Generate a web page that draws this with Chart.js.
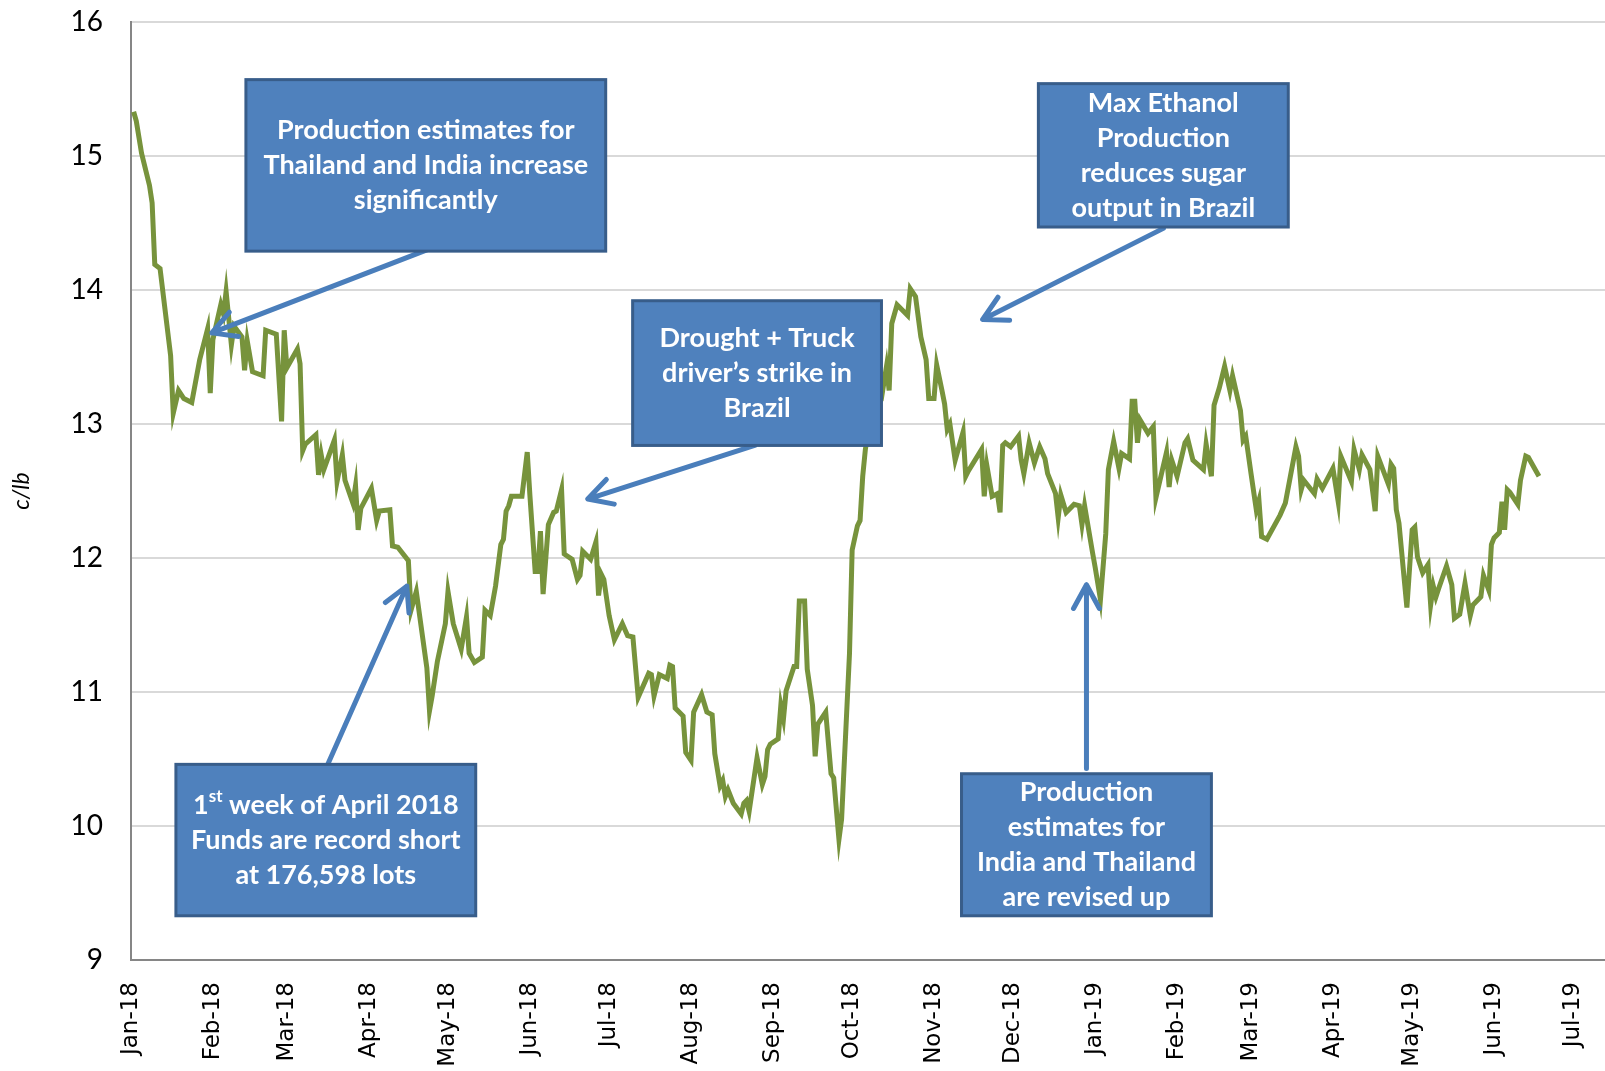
<!DOCTYPE html>
<html>
<head>
<meta charset="utf-8">
<script src="https://cdn.jsdelivr.net/npm/chart.js@4.4.0/dist/chart.umd.min.js"></script>
<style>
  html, body { margin: 0; padding: 0; background: #fff; }
</style>
</head>
<body>
<canvas id="sugarChart" width="1605" height="1071"></canvas>
<script>
// days counted from 1 Jan 2018
const tradeDay = [
  1, 2, 4, 7, 8, 9, 11, 15, 16, 18, 20, 23, 26, 29, 30, 31, 34, 35, 36, 38,
  39, 42, 43, 44, 46, 50, 51, 55, 57, 58, 59, 63, 64, 65, 66, 70, 71, 72, 73, 77,
  78, 80, 81, 84, 85, 86, 87, 91, 93, 94, 98, 99, 101, 105, 106, 108, 112, 113, 114, 116,
  119, 120, 122, 125, 127, 128, 130, 133, 134, 136, 138, 140, 141, 142, 143, 144, 148, 150, 151, 153,
  154, 155, 156, 158, 160, 161, 163, 164, 167, 169, 170, 171, 174, 176, 177, 178, 179, 181, 183, 186,
  188, 190, 192, 196, 197, 198, 200, 203, 204, 205, 206, 209, 210, 212, 213, 216, 218, 220, 221, 223,
  224, 225, 226, 228, 231, 232, 233, 234, 237, 239, 240, 241, 242, 245, 246, 247, 248, 250, 251, 252,
  253, 255, 256, 258, 259, 260, 263, 265, 266, 268, 269, 272, 273, 275, 276, 277, 278, 279, 281, 284,
  286, 287, 288, 290, 293, 294, 295, 297, 299, 301, 302, 304, 305, 307, 308, 309, 310, 312, 315, 316,
  317, 322, 323, 324, 326, 328, 329, 330, 331, 333, 336, 337, 338, 340, 342, 344, 346, 347, 350, 351,
  352, 354, 357, 359, 360, 361, 364, 365, 367, 369, 370, 372, 374, 375, 378, 379, 380, 381, 382, 385,
  387, 388, 392, 393, 394, 396, 399, 400, 402, 406, 407, 409, 410, 412, 414, 416, 417, 420, 421, 422,
  424, 426, 427, 428, 430, 435, 437, 441, 442, 443, 444, 448, 449, 451, 455, 457, 458, 462, 463, 465,
  466, 469, 471, 472, 476, 477, 478, 479, 480, 483, 485, 486, 487, 489, 491, 492, 493, 494, 495, 498,
  500, 501, 503, 505, 507, 508, 511, 512, 514, 515, 516, 518, 519, 520, 521, 522, 525, 526, 528, 529,
  533
];
const priceCents = [
  15.33, 15.26, 15.02, 14.78, 14.65, 14.19, 14.16, 13.51, 13.08, 13.25, 13.19, 13.16, 13.48, 13.71, 13.23, 13.63, 13.89, 13.82, 13.99, 13.59,
  13.73, 13.65, 13.40, 13.62, 13.39, 13.36, 13.70, 13.67, 13.02, 13.70, 13.42, 13.56, 13.45, 12.80, 12.85, 12.92, 12.62, 12.77, 12.66, 12.88,
  12.57, 12.77, 12.58, 12.41, 12.54, 12.21, 12.37, 12.52, 12.28, 12.35, 12.36, 12.09, 12.08, 11.98, 11.61, 11.75, 11.18, 10.86, 10.97, 11.23,
  11.51, 11.75, 11.51, 11.32, 11.56, 11.29, 11.22, 11.26, 11.61, 11.57, 11.79, 12.10, 12.14, 12.35, 12.39, 12.46, 12.46, 12.79, 12.47, 11.90,
  11.90, 12.20, 11.73, 12.25, 12.34, 12.35, 12.51, 12.03, 11.99, 11.84, 11.87, 12.05, 11.99, 12.12, 11.72, 11.88, 11.84, 11.57, 11.39, 11.51,
  11.42, 11.41, 10.96, 11.14, 11.13, 10.97, 11.13, 11.10, 11.20, 11.19, 10.88, 10.82, 10.55, 10.49, 10.85, 10.98, 10.85, 10.83, 10.54, 10.30,
  10.34, 10.22, 10.27, 10.17, 10.09, 10.17, 10.19, 10.11, 10.51, 10.31, 10.37, 10.57, 10.61, 10.65, 10.90, 10.80, 11.01, 11.13, 11.19, 11.19,
  11.68, 11.68, 11.17, 10.90, 10.52, 10.76, 10.85, 10.39, 10.36, 9.90, 10.05, 11.29, 12.06, 12.24, 12.28, 12.61, 12.81, 12.93, 13.10, 13.18,
  13.43, 13.25, 13.75, 13.89, 13.83, 13.81, 14.01, 13.95, 13.65, 13.48, 13.19, 13.19, 13.44, 13.25, 13.15, 12.96, 13.00, 12.73, 12.94, 12.61,
  12.65, 12.81, 12.46, 12.69, 12.46, 12.48, 12.34, 12.84, 12.86, 12.83, 12.91, 12.73, 12.63, 12.86, 12.71, 12.83, 12.74, 12.63, 12.48, 12.30,
  12.47, 12.34, 12.40, 12.39, 12.25, 12.39, 12.04, 11.93, 11.69, 12.18, 12.66, 12.87, 12.67, 12.78, 12.74, 13.17, 13.17, 12.86, 13.03, 12.93,
  12.98, 12.45, 12.79, 12.53, 12.73, 12.61, 12.86, 12.89, 12.73, 12.66, 12.85, 12.61, 13.14, 13.27, 13.43, 13.25, 13.36, 13.10, 12.88, 12.91,
  12.63, 12.36, 12.43, 12.16, 12.14, 12.32, 12.41, 12.83, 12.76, 12.51, 12.58, 12.48, 12.59, 12.52, 12.67, 12.42, 12.76, 12.57, 12.81, 12.66,
  12.77, 12.66, 12.35, 12.76, 12.55, 12.70, 12.67, 12.36, 12.26, 11.63, 12.21, 12.23, 12.01, 11.89, 11.95, 11.65, 11.79, 11.71, 11.77, 11.94,
  11.80, 11.55, 11.58, 11.81, 11.57, 11.65, 11.71, 11.87, 11.76, 12.10, 12.15, 12.19, 12.42, 12.21, 12.51, 12.49, 12.40, 12.58, 12.76, 12.75,
  12.61
];
const monthLabels = [
  'Jan-18', 'Feb-18', 'Mar-18', 'Apr-18', 'May-18', 'Jun-18', 'Jul-18', 'Aug-18', 'Sep-18', 'Oct-18',
  'Nov-18', 'Dec-18', 'Jan-19', 'Feb-19', 'Mar-19', 'Apr-19', 'May-19', 'Jun-19', 'Jul-19'
];
const yTickValues = [9, 10, 11, 12, 13, 14, 15, 16];

// month tick positions in days from 1 Jan 2018
const monthStartDay = monthLabels.map((_, i) => (Date.UTC(2018, i, 1) - Date.UTC(2018, 0, 1)) / 86400000);

// callouts, placed in chart units (day, c/lb)
const callouts = [
  { lines: ['Production estimates for', 'Thailand and India increase', 'significantly'],
    box: [43.5, 179.7, 15.57, 14.29], from: [112, 14.30], to: [30.6, 13.68] },
  { lines: ['Max Ethanol', 'Production', 'reduces sugar', 'output in Brazil'],
    box: [343.5, 438.1, 15.54, 14.47], from: [390.8, 14.46], to: [322.4, 13.78] },
  { lines: ['Drought + Truck', 'driver\u2019s strike in', 'Brazil'],
    box: [189.9, 284.1, 13.92, 12.84], from: [236.1, 12.84], to: [172.9, 12.44] },
  { lines: [[['1', false], ['st', true], [' week of April 2018', false]], 'Funds are record short', 'at 176,598 lots'],
    box: [17.0, 130.5, 10.46, 9.33], from: [74.5, 10.46], to: [104.4, 11.79] },
  { lines: ['Production', 'estimates for', 'India and Thailand', 'are revised up'],
    box: [314.4, 409.0, 10.39, 9.33], from: [361.7, 10.43], to: [361.7, 11.80] }
];

const noteFont = 'bold 27px Lato';
const supFont = 'bold 17px Lato';

function drawArrow(ctx, x0, y0, x1, y1) {
  const ang = Math.atan2(y1 - y0, x1 - x0);
  const head = 27, spread = 0.5;
  ctx.beginPath();
  ctx.moveTo(x0, y0);
  ctx.lineTo(x1, y1);
  ctx.moveTo(x1 - head * Math.cos(ang - spread), y1 - head * Math.sin(ang - spread));
  ctx.lineTo(x1, y1);
  ctx.lineTo(x1 - head * Math.cos(ang + spread), y1 - head * Math.sin(ang + spread));
  ctx.stroke();
}

function drawLine(ctx, line, cx, cy) {
  if (typeof line === 'string') {
    ctx.font = noteFont;
    ctx.textAlign = 'center';
    ctx.fillText(line, cx, cy);
    return;
  }
  // line made of pieces, some superscript
  let total = 0;
  line.forEach(p => { ctx.font = p[1] ? supFont : noteFont; total += ctx.measureText(p[0]).width; });
  let x = cx - total / 2;
  ctx.textAlign = 'left';
  line.forEach(p => {
    ctx.font = p[1] ? supFont : noteFont;
    ctx.fillText(p[0], x, p[1] ? cy - 9 : cy);
    x += ctx.measureText(p[0]).width;
  });
}

const calloutPlugin = {
  id: 'callouts',
  afterDatasetsDraw(chart) {
    const ctx = chart.ctx;
    const sx = chart.scales.x, sy = chart.scales.y;
    ctx.save();
    callouts.forEach(c => {
      ctx.strokeStyle = '#4A7EBB';
      ctx.lineWidth = 5;
      ctx.lineCap = 'round';
      ctx.lineJoin = 'round';
      drawArrow(ctx, sx.getPixelForValue(c.from[0]), sy.getPixelForValue(c.from[1]),
        sx.getPixelForValue(c.to[0]), sy.getPixelForValue(c.to[1]));

      const x0 = sx.getPixelForValue(c.box[0]), x1 = sx.getPixelForValue(c.box[1]);
      const y0 = sy.getPixelForValue(c.box[2]), y1 = sy.getPixelForValue(c.box[3]);
      ctx.fillStyle = '#4F81BD';
      ctx.fillRect(x0, y0, x1 - x0, y1 - y0);
      ctx.strokeStyle = '#385D8A';
      ctx.lineWidth = 3;
      ctx.lineJoin = 'miter';
      ctx.strokeRect(x0, y0, x1 - x0, y1 - y0);

      ctx.fillStyle = '#ffffff';
      ctx.textBaseline = 'middle';
      const step = 35;
      const cx = (x0 + x1) / 2, cy = (y0 + y1) / 2;
      const startY = cy - (c.lines.length - 1) * step / 2;
      c.lines.forEach((ln, i) => drawLine(ctx, ln, cx, startY + i * step));
    });
    ctx.restore();
  }
};

const ctx = document.getElementById('sugarChart').getContext('2d');
const sugarChart = new Chart(ctx, {
  type: 'line',
  data: {
    datasets: [{
      data: tradeDay.map((d, i) => ({ x: d, y: priceCents[i] })),
      borderColor: '#77933C',
      borderWidth: 5,
      pointRadius: 0,
      tension: 0,
      fill: false
    }]
  },
  options: {
    responsive: false,
    animation: false,
    layout: { padding: { top: 22, right: 0, bottom: 0, left: 0 } },
    plugins: {
      legend: { display: false },
      tooltip: { enabled: false }
    },
    scales: {
      x: {
        type: 'linear',
        min: 0,
        max: 558,
        grid: { display: false, drawTicks: false },
        border: { color: '#868686', width: 2 },
        afterBuildTicks: scale => { scale.ticks = monthStartDay.map(v => ({ value: v })); },
        afterFit: scale => {
          scale.height = 111;
          scale.paddingLeft = 0;
          scale.paddingRight = 0;
        },
        ticks: {
          autoSkip: false,
          maxRotation: 90,
          minRotation: 90,
          padding: 22,
          color: '#000',
          font: { family: 'DejaVu Sans', size: 23 },
          callback: (value, index) => monthLabels[index]
        }
      },
      y: {
        min: 9,
        max: 16,
        afterBuildTicks: scale => { scale.ticks = yTickValues.map(v => ({ value: v })); },
        afterFit: scale => {
          scale.width = 131;
          scale.paddingTop = 0;
          scale.paddingBottom = 0;
        },
        grid: { color: '#D9D9D9', lineWidth: 2, drawTicks: false },
        border: { color: '#868686', width: 2 },
        ticks: {
          padding: 28,
          color: '#000',
          font: { family: 'Lato', size: 28 }
        },
        title: {
          display: true,
          text: 'c/lb',
          color: '#000',
          font: { family: 'Lato', size: 23, style: 'italic' },
          padding: { top: 8, bottom: 0 }
        }
      }
    }
  },
  plugins: [calloutPlugin]
});
</script>
</body>
</html>
